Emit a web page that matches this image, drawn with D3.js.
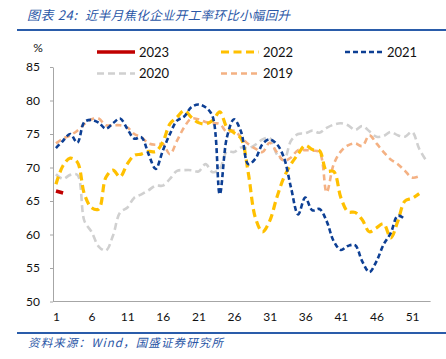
<!DOCTYPE html>
<html><head><meta charset="utf-8">
<script src="https://cdn.jsdelivr.net/npm/d3@7"></script>
<style>
html,body{margin:0;padding:0;background:#fff;}
svg{display:block;}
</style></head>
<body>
<svg id="chart" width="446" height="359"></svg>
<script>
const titlePrefix = "图表 24:";
const titleText = "近半月焦化企业开工率环比小幅回升";
const sourceText = "资料来源：Wind，国盛证券研究所";
const yTicks = [50, 55, 60, 65, 70, 75, 80, 85];
const xTicks = [1, 6, 11, 16, 21, 26, 31, 36, 41, 46, 51];
const seriesNames = ["2023", "2022", "2021", "2020", "2019"];

const v2023 = [66.5, 66.2];
const v2022 = [67.5, 70.3, 71.4, 70.8, 66.0, 64.0, 63.8, 68.5, 69.6, 68.6,
  70.5, 71.8, 72.0, 72.4, 72.4, 73.8, 76.5, 77.5, 78.5, 77.5,
  76.7, 76.5, 77.0, 78.3, 76.0, 75.2, 74.3, 69.2, 62.5, 60.4,
  62.0, 65.5, 68.5, 70.5, 72.0, 73.3, 72.7, 72.5, 69.5, 69.4,
  65.5, 63.4, 63.3, 62.2, 60.4, 61.0, 61.6, 59.5, 62.0, 65.0,
  65.4, 66.1];
const v2021 = [72.9, 74.0, 75.0, 73.7, 76.8, 77.1, 76.7, 75.8, 76.6, 77.3,
  75.8, 74.3, 74.5, 72.0, 69.8, 72.5, 75.0, 77.0, 77.6, 79.0,
  79.4, 79.0, 77.6, 66.0, 74.5, 77.2, 75.3, 70.5, 71.3, 73.5,
  74.2, 73.5, 71.5, 67.0, 63.0, 65.5, 63.6, 63.8, 62.0, 59.0,
  57.7, 58.3, 58.4, 56.0, 54.4, 56.0, 58.5, 60.2, 62.8, 62.3];
const v2020 = [69.0, 68.3, 68.9, 68.9, 62.0, 60.4, 58.2, 57.6, 59.8, 63.3,
  64.0, 65.5, 66.0, 66.6, 67.3, 67.3, 68.3, 69.5, 69.6, 69.6,
  69.4, 70.5, 69.3, 69.8, 72.4, 72.3, 73.0, 72.9, 73.4, 74.2,
  74.4, 72.0, 71.1, 74.0, 75.0, 75.1, 75.5, 75.2, 75.9, 76.4,
  76.6, 76.3, 75.6, 76.2, 75.4, 74.6, 74.7, 75.3, 74.8, 74.6,
  75.3, 72.8, 71.0];
const v2019 = [73.6, 74.3, 74.8, 75.5, 76.5, 77.2, 77.3, 76.3, 76.3, 76.3,
  76.0, 75.0, 74.5, 73.6, 73.4, 73.5, 72.0, 74.0, 76.0, 77.3,
  77.2, 76.8, 76.6, 76.5, 75.3, 75.5, 74.5, 73.5, 72.8, 72.3,
  73.7, 72.3, 71.0, 71.5, 72.6, 72.6, 72.5, 72.3, 66.3, 70.5,
  72.4, 73.3, 73.6, 73.2, 74.8, 73.6, 72.3, 71.2, 70.5, 69.5,
  68.5, 68.7];

const styles = {
  "2023": {color: "#C00000", width: 3.5, dash: null},
  "2022": {color: "#FFC000", width: 3.2, dash: "8,4.5"},
  "2021": {color: "#0D3F94", width: 2.6, dash: "5,3"},
  "2020": {color: "#D0D0D0", width: 2.6, dash: "7,4"},
  "2019": {color: "#F4B183", width: 2.6, dash: "6,4"}
};
const dataMap = {"2023": v2023, "2022": v2022, "2021": v2021, "2020": v2020, "2019": v2019};

const svg = d3.select("#chart");
const x = d3.scaleLinear().domain([0.5, 53.6]).range([52.4, 430.6]);
const y = d3.scaleLinear().domain([50, 85]).range([301.5, 67]);

// title
svg.append("text").attr("x", 27).attr("y", 20)
  .attr("fill", "#2A56A6").attr("font-style", "italic")
  .attr("font-family", "'Noto Sans CJK SC', sans-serif").attr("font-size", 13)
  .attr("textLength", 50).attr("lengthAdjust", "spacing")
  .text(titlePrefix);
svg.append("text").attr("x", 85).attr("y", 20)
  .attr("fill", "#2A56A6").attr("font-style", "italic")
  .attr("font-family", "'Noto Sans CJK SC', sans-serif").attr("font-size", 12.5)
  .attr("textLength", 205).attr("lengthAdjust", "spacing")
  .text(titleText);
svg.append("line").attr("x1", 17).attr("x2", 446).attr("y1", 30).attr("y2", 30)
  .attr("stroke", "#2A5CAA").attr("stroke-width", 2);
svg.append("line").attr("x1", 17).attr("x2", 446).attr("y1", 333).attr("y2", 333)
  .attr("stroke", "#2A5CAA").attr("stroke-width", 2);
svg.append("text").attr("x", 28).attr("y", 347)
  .attr("fill", "#2A56A6").attr("font-style", "italic")
  .attr("font-family", "'Noto Sans CJK SC', sans-serif").attr("font-size", 11.5)
  .attr("textLength", 195).attr("lengthAdjust", "spacing")
  .text(sourceText);

// axes
const yAxis = d3.axisLeft(y).tickValues(yTicks).tickSizeInner(3).tickSizeOuter(0).tickPadding(10);
const gy = svg.append("g").attr("transform", "translate(53,0)").call(yAxis);
gy.select(".domain").attr("stroke", "#A6A6A6");
gy.selectAll(".tick line").attr("stroke", "#A6A6A6");
gy.selectAll("text").attr("font-family", "Lato, sans-serif").attr("font-size", 12).attr("fill", "#111");

const xAxis = d3.axisBottom(x).tickValues(xTicks).tickSize(0).tickSizeOuter(0).tickPadding(11).tickFormat(d3.format("d"));
const gx = svg.append("g").attr("transform", "translate(0,301.5)").call(xAxis);
gx.select(".domain").attr("stroke", "#A6A6A6").attr("d", `M53,0H${x(53.6)}`);
gx.selectAll("text").attr("font-family", "Lato, sans-serif").attr("font-size", 12).attr("fill", "#111");

svg.append("text").attr("x", 38).attr("y", 52).attr("text-anchor", "middle")
  .attr("font-family", "Lato, sans-serif").attr("font-size", 12).attr("fill", "#111").text("%");

// lines
const line = d3.line().x((d, i) => x(i + 1)).y(d => y(d)).curve(d3.curveCatmullRom.alpha(0.5));
const drawOrder = ["2020", "2019", "2022", "2021", "2023"];
drawOrder.forEach(name => {
  const s = styles[name];
  svg.append("path").datum(dataMap[name]).attr("d", line)
    .attr("fill", "none").attr("stroke", s.color).attr("stroke-width", s.width)
    .attr("stroke-dasharray", s.dash).attr("stroke-linejoin", "round");
});

// legend
const legendPos = {
  "2023": [97, 52], "2022": [221, 52], "2021": [345, 52],
  "2020": [97, 73.5], "2019": [221, 73.5]
};
seriesNames.forEach(name => {
  const s = styles[name];
  const [lx, ly] = legendPos[name];
  svg.append("line").attr("x1", lx).attr("x2", lx + 38).attr("y1", ly).attr("y2", ly)
    .attr("stroke", s.color).attr("stroke-width", s.width).attr("stroke-dasharray", s.dash);
  svg.append("text").attr("x", lx + 42).attr("y", ly + 4.5)
    .attr("font-family", "Lato, sans-serif").attr("font-size", 13).attr("fill", "#111").text(name);
});
</script>
</body></html>
